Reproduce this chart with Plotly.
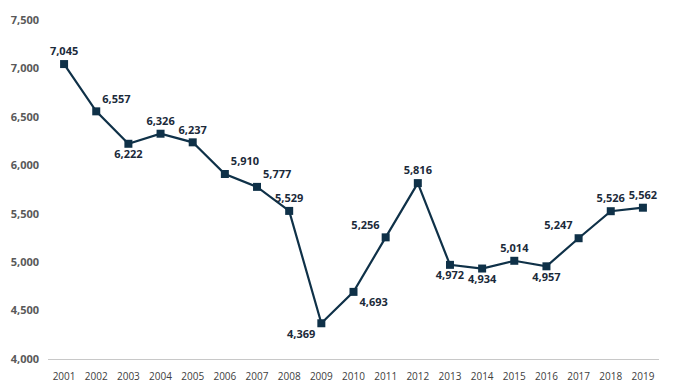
import plotly.graph_objects as go

years = ["2001","2002","2003","2004","2005","2006","2007","2008","2009","2010",
         "2011","2012","2013","2014","2015","2016","2017","2018","2019"]
values = [7045, 6557, 6222, 6326, 6237, 5910, 5777, 5529, 4369, 4693,
          5256, 5816, 4972, 4934, 5014, 4957, 5247, 5526, 5562]
label_pos = ["top center", "top right", "bottom center", "top center", "top center",
             "top right", "top right", "top center", "bottom left", "bottom right",
             "top left", "top center", "bottom center", "bottom center", "top center",
             "bottom center", "top left", "top center", "top center"]
y_ticks = [4000, 4500, 5000, 5500, 6000, 6500, 7000, 7500]

color = "#0f3148"
fig = go.Figure()
fig.add_trace(go.Scatter(
    x=years, y=values, mode="lines+markers+text",
    line=dict(color=color, width=2.2),
    marker=dict(symbol="square", size=8, color=color),
    text=[f"{v:,}" for v in values],
    textposition=label_pos,
    textfont=dict(family="Open Sans", size=11, color="#1b2a3a", weight="bold"),
    cliponaxis=False,
))
fig.update_layout(
    width=674, height=390,
    margin=dict(l=40, r=23, t=12, b=39, autoexpand=False),
    paper_bgcolor="white", plot_bgcolor="white",
    showlegend=False,
    font=dict(family="Open Sans"),
)
fig.update_xaxes(
    type="category", range=[-0.5, len(years) - 0.5],
    showgrid=False, showline=True, linecolor="#c8c8c8", linewidth=1,
    ticks="", tickfont=dict(size=10, color="#404040"), automargin=False,
    ticklabelstandoff=8,
)
fig.update_yaxes(
    range=[4000, 7500], tickvals=y_ticks, ticktext=[f"{v:,}" for v in y_ticks],
    showgrid=False, zeroline=False, showline=False, ticks="", automargin=False,
    tickfont=dict(size=11, color="#595959", weight="bold"), ticklabelstandoff=8,
)
fig.write_html("out.html")
